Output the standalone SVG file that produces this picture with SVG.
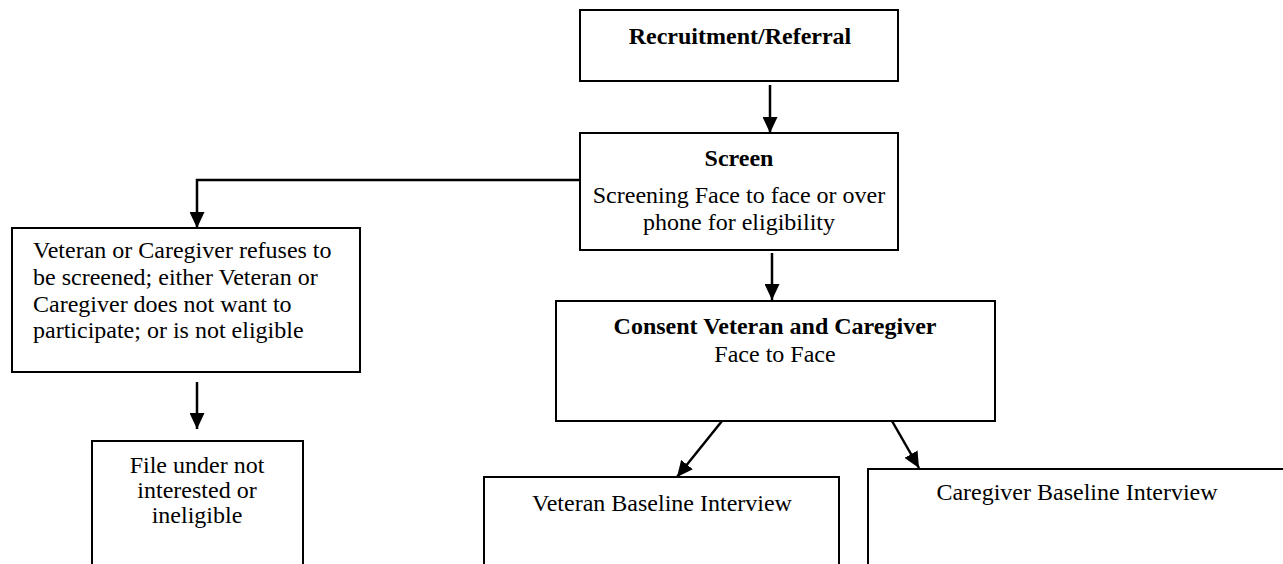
<svg xmlns="http://www.w3.org/2000/svg" width="1283" height="564" viewBox="0 0 1283 564">
<style>
.box{fill:#fff;stroke:#000;stroke-width:2}
.t{font-family:"Liberation Serif","Times New Roman",serif;font-size:24px;fill:#000}
.b{font-weight:bold}
.c{text-anchor:middle}
.con{fill:none;stroke:#000;stroke-width:2.5}
</style>
<defs>
<marker id="ah" viewBox="0 0 16 15" refX="16" refY="7.5" markerWidth="16" markerHeight="15" markerUnits="userSpaceOnUse" orient="auto">
<path d="M0,0 L16,7.5 L0,15 z" fill="#000"/>
</marker>
</defs>
<rect width="1283" height="564" fill="#fff"/>
<g id="connectors">
<line class="con" x1="770" y1="85" x2="770" y2="133" marker-end="url(#ah)"/>
<polyline class="con" points="580,180 197,180 197,228" marker-end="url(#ah)"/>
<line class="con" x1="772" y1="253" x2="772" y2="300" marker-end="url(#ah)"/>
<line class="con" x1="197" y1="382" x2="197" y2="429" marker-end="url(#ah)"/>
<line class="con" x1="722" y1="421" x2="677" y2="477" marker-end="url(#ah)"/>
<line class="con" x1="892" y1="421" x2="919" y2="468" marker-end="url(#ah)"/>
</g>
<g id="recruitment">
<rect class="box" x="580" y="10" width="318" height="71"/>
<text class="t b c" x="740" y="44">Recruitment/Referral</text>
</g>
<g id="screen">
<rect class="box" x="580" y="133" width="318" height="117"/>
<text class="t b c" x="739" y="166">Screen</text>
<text class="t c" x="739" y="203">Screening Face to face or over</text>
<text class="t c" x="739" y="230">phone for eligibility</text>
</g>
<g id="refuses">
<rect class="box" x="12" y="228" width="348" height="144"/>
<text class="t" x="33" y="258">Veteran or Caregiver refuses to</text>
<text class="t" x="33" y="285">be screened; either Veteran or</text>
<text class="t" x="33" y="312">Caregiver does not want to</text>
<text class="t" x="33" y="338">participate; or is not eligible</text>
</g>
<g id="file">
<rect class="box" x="92" y="441" width="211" height="140"/>
<text class="t c" x="197" y="473">File under not</text>
<text class="t c" x="197" y="498">interested or</text>
<text class="t c" x="197" y="523">ineligible</text>
</g>
<g id="consent">
<rect class="box" x="556" y="301" width="439" height="120"/>
<text class="t b c" x="775" y="334">Consent Veteran and Caregiver</text>
<text class="t c" x="775" y="362">Face to Face</text>
</g>
<g id="veteran">
<rect class="box" x="484" y="477" width="355" height="100"/>
<text class="t c" x="662" y="511">Veteran Baseline Interview</text>
</g>
<g id="caregiver">
<rect class="box" x="868" y="469" width="430" height="110"/>
<text class="t c" x="1077" y="500">Caregiver Baseline Interview</text>
</g>
</svg>
